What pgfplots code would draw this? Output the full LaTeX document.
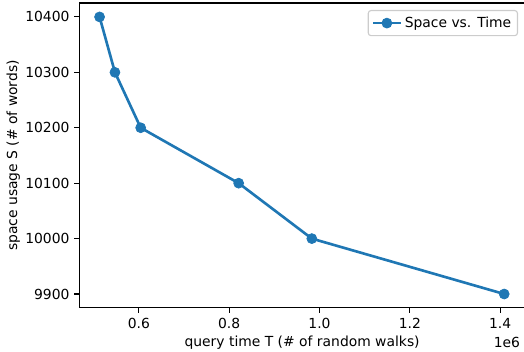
\documentclass[border=0pt]{standalone}
\usepackage{pgfplots}
\pgfplotsset{compat=1.18}
\usepackage{fontspec}
\setmainfont{DejaVu Sans}
\definecolor{mplblue}{HTML}{1F77B4}
\begin{document}
\begin{tikzpicture}[font=\fontsize{10}{12}\selectfont]
\begin{axis}[
  scale only axis,
  width=321.1pt, height=219.6pt,
  xmin=468000, xmax=1455000,
  ymin=9875, ymax=10425,
  xtick={600000,800000,1000000,1200000,1400000},
  xticklabels={0.6,0.8,1.0,1.2,1.4},
  ytick={9900,10000,10100,10200,10300,10400},
  scaled x ticks=false, scaled y ticks=false,
  yticklabel style={/pgf/number format/fixed,/pgf/number format/1000 sep={}},
  /pgf/number format/assume math mode=true,
  tick align=outside, major tick length=3.5pt,
  xtick pos=bottom, ytick pos=left,
  tick style={black, line width=0.8pt},
  axis line style={line width=0.8pt},
  xticklabel style={yshift=-0.5pt},
  legend style={at={(axis cs:1455000,10425)}, xshift=-5pt, yshift=-5pt, anchor=north east,
    draw=black!20, rounded corners=2pt, line width=0.8pt, inner sep=2.5pt,
    font=\fontsize{10}{12}\selectfont, legend cell align=left},
  legend image code/.code={\draw[#1, mark repeat=2, mark phase=2] plot coordinates {(0cm,0cm) (0.35cm,0cm) (0.7cm,0cm)};},
]
\addplot[mplblue, line width=1.9pt, mark=*, mark size=3.6pt, mark options={solid, line width=0.5pt}]
  coordinates {(513000,10400) (547000,10300) (604000,10200) (821000,10100) (983000,10000) (1409000,9900)};
\addlegendentry{Space vs. Time}
\end{axis}
\node[anchor=center] at ([yshift=-25.2pt]current axis.south) {query time T (\# of random walks)};
\node[anchor=east] at ([yshift=-25.2pt]current axis.south east) {1e6};
\node[rotate=90, anchor=center] at ([xshift=-47.5pt]current axis.west) {space usage S (\# of words)};
\pgfresetboundingbox
\path ([shift={(-57.1pt,-31.7pt)}]current axis.south west) rectangle ([shift={(-0.7pt,2.2pt)}]current axis.north east);
\end{tikzpicture}
\end{document}
